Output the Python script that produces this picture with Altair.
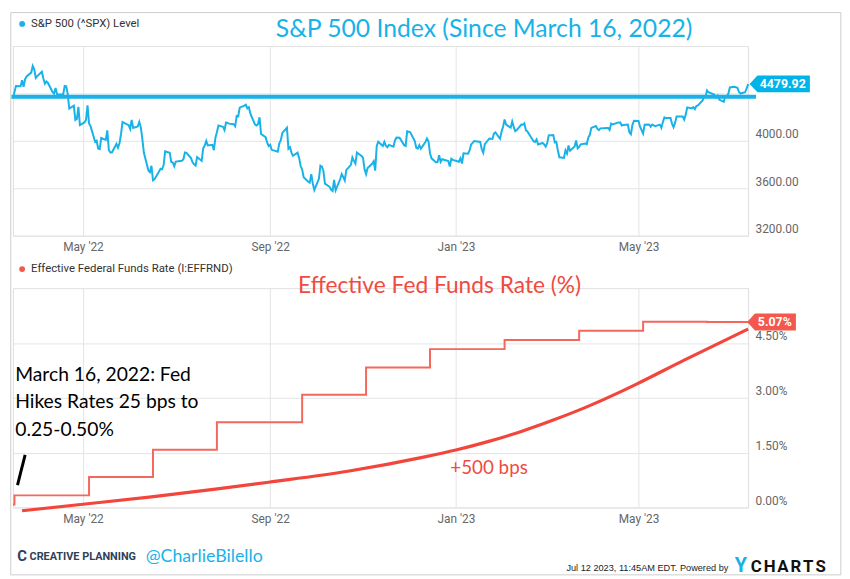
import altair as alt
import pandas as pd

# ---------------- S&P 500 daily closes (day, close) by month ----------------
mar22 = [(16, 4357.86), (17, 4411.67), (18, 4463.12), (21, 4461.18), (22, 4511.61), (23, 4456.24), (24, 4520.16),
         (25, 4543.06), (28, 4575.52), (29, 4631.60), (30, 4602.45), (31, 4530.41)]
apr22 = [(1, 4545.86), (4, 4582.64), (5, 4525.12), (6, 4481.15), (7, 4500.21), (8, 4488.28), (11, 4412.53),
         (12, 4397.45), (13, 4446.59), (14, 4392.59), (18, 4391.69), (19, 4462.21), (20, 4459.45), (21, 4393.66),
         (22, 4271.78), (25, 4296.12), (26, 4175.20), (27, 4183.96), (28, 4287.50), (29, 4131.93)]
may22 = [(2, 4155.38), (3, 4175.48), (4, 4300.17), (5, 4146.87), (6, 4123.34), (9, 3991.24), (10, 4001.05),
         (11, 3935.18), (12, 3930.08), (13, 4023.89), (16, 4008.01), (17, 4088.85), (18, 3923.68), (19, 3900.79),
         (20, 3901.36), (23, 3973.75), (24, 3941.48), (25, 3978.73), (26, 4057.84), (27, 4158.24), (31, 4132.15)]
jun22 = [(1, 4101.23), (2, 4176.82), (3, 4108.54), (6, 4121.43), (7, 4160.68), (8, 4115.77), (9, 4017.82),
         (10, 3900.86), (13, 3749.63), (14, 3735.48), (15, 3789.99), (16, 3666.77), (17, 3674.84), (21, 3764.79),
         (22, 3759.89), (23, 3795.73), (24, 3911.74), (27, 3900.11), (28, 3821.55), (29, 3818.83), (30, 3785.38)]
jul22 = [(1, 3825.33), (5, 3831.39), (6, 3845.08), (7, 3902.62), (8, 3899.38), (11, 3854.43), (12, 3818.80),
         (13, 3801.78), (14, 3790.38), (15, 3863.16), (18, 3830.85), (19, 3936.69), (20, 3959.90), (21, 3998.95),
         (22, 3961.63), (25, 3966.84), (26, 3921.05), (27, 4023.61), (28, 4072.43), (29, 4130.29)]
aug22 = [(1, 4118.63), (2, 4091.19), (3, 4155.17), (4, 4151.94), (5, 4145.19), (8, 4140.06), (9, 4122.47),
         (10, 4210.24), (11, 4207.27), (12, 4280.15), (15, 4297.14), (16, 4305.20), (17, 4274.04), (18, 4283.74),
         (19, 4228.48), (22, 4137.99), (23, 4128.73), (24, 4140.77), (25, 4199.12), (26, 4057.66), (29, 4030.61),
         (30, 3986.16), (31, 3955.00)]
sep22 = [(1, 3966.85), (2, 3924.26), (6, 3908.19), (7, 3979.87), (8, 4006.18), (9, 4067.36), (12, 4110.41),
         (13, 3932.69), (14, 3946.01), (15, 3901.35), (16, 3873.33), (19, 3899.89), (20, 3855.93), (21, 3789.93),
         (22, 3757.99), (23, 3693.23), (26, 3655.04), (27, 3647.29), (28, 3719.04), (29, 3640.47), (30, 3585.62)]
oct22 = [(3, 3678.43), (4, 3790.93), (5, 3783.28), (6, 3744.52), (7, 3639.66), (10, 3612.39), (11, 3588.84),
         (12, 3577.03), (13, 3669.91), (14, 3583.07), (17, 3677.95), (18, 3719.98), (19, 3695.16), (20, 3665.78),
         (21, 3752.75), (24, 3797.34), (25, 3859.11), (26, 3830.60), (27, 3807.30), (28, 3901.06), (31, 3871.98)]
nov22 = [(1, 3856.10), (2, 3759.69), (3, 3719.89), (4, 3770.55), (7, 3806.80), (8, 3828.11), (9, 3748.57),
         (10, 3956.37), (11, 3992.93), (14, 3957.25), (15, 3991.73), (16, 3958.79), (17, 3946.56), (18, 3965.34),
         (21, 3949.94), (22, 4003.58), (23, 4027.26), (25, 4026.12), (28, 3963.94), (29, 3957.63), (30, 4080.11)]
dec22 = [(1, 4076.57), (2, 4071.70), (5, 3998.84), (6, 3941.26), (7, 3933.92), (8, 3963.51), (9, 3934.38),
         (12, 3990.56), (13, 4019.65), (14, 3995.32), (15, 3895.75), (16, 3852.36), (19, 3817.66), (20, 3821.62),
         (21, 3878.44), (22, 3822.39), (23, 3844.82), (27, 3829.25), (28, 3783.22), (29, 3849.28), (30, 3839.50)]
jan23 = [(3, 3824.14), (4, 3852.97), (5, 3808.10), (6, 3895.08), (9, 3892.09), (10, 3919.25), (11, 3969.61),
         (12, 3983.17), (13, 3999.09), (17, 3990.97), (18, 3928.86), (19, 3898.85), (20, 3972.61), (23, 4019.81),
         (24, 4016.95), (25, 4016.22), (26, 4060.43), (27, 4070.56), (30, 4017.77), (31, 4076.60)]
feb23 = [(1, 4119.21), (2, 4179.76), (3, 4136.48), (6, 4111.08), (7, 4164.00), (8, 4117.86), (9, 4081.50),
         (10, 4090.46), (13, 4137.29), (14, 4136.13), (15, 4147.60), (16, 4090.41), (17, 4079.09), (21, 3997.34),
         (22, 3991.05), (23, 4012.32), (24, 3970.04), (27, 3982.24), (28, 3970.15)]
mar23 = [(1, 3951.39), (2, 3981.35), (3, 4045.64), (6, 4048.42), (7, 3986.37), (8, 3992.01), (9, 3918.32),
         (10, 3861.59), (13, 3855.76), (14, 3919.29), (15, 3891.93), (16, 3960.28), (17, 3916.64), (20, 3951.57),
         (21, 4002.87), (22, 3936.97), (23, 3948.72), (24, 3970.99), (27, 3977.53), (28, 3971.27), (29, 4027.81),
         (30, 4050.83), (31, 4109.31)]
apr23 = [(3, 4124.51), (4, 4100.60), (5, 4090.38), (6, 4105.02), (10, 4109.11), (11, 4108.94), (12, 4091.95),
         (13, 4146.22), (14, 4137.64), (17, 4151.32), (18, 4154.87), (19, 4154.52), (20, 4129.79), (21, 4133.52),
         (24, 4137.04), (25, 4071.63), (26, 4055.99), (27, 4135.35), (28, 4169.48)]
may23 = [(1, 4167.87), (2, 4119.58), (3, 4090.75), (4, 4061.22), (5, 4136.25), (8, 4138.12), (9, 4119.17),
         (10, 4137.64), (11, 4130.62), (12, 4124.08), (15, 4136.28), (16, 4109.90), (17, 4158.77), (18, 4198.05),
         (19, 4191.98), (22, 4192.63), (23, 4145.58), (24, 4115.24), (25, 4151.28), (26, 4205.45), (30, 4205.52),
         (31, 4179.83)]
jun23 = [(1, 4221.02), (2, 4282.37), (5, 4273.79), (6, 4283.85), (7, 4267.52), (8, 4293.93), (9, 4298.86),
         (12, 4338.93), (13, 4369.01), (14, 4372.59), (15, 4425.84), (16, 4409.59), (20, 4388.71), (21, 4365.69),
         (22, 4381.89), (23, 4348.33), (26, 4328.82), (27, 4378.41), (28, 4376.86), (29, 4396.44), (30, 4450.38)]
jul23 = [(3, 4455.59), (5, 4446.82), (6, 4411.59), (7, 4398.95), (10, 4409.53), (11, 4439.26), (12, 4479.92)]

sp_months = [("2022-03", mar22), ("2022-04", apr22), ("2022-05", may22), ("2022-06", jun22), ("2022-07", jul22),
             ("2022-08", aug22), ("2022-09", sep22), ("2022-10", oct22), ("2022-11", nov22), ("2022-12", dec22),
             ("2023-01", jan23), ("2023-02", feb23), ("2023-03", mar23), ("2023-04", apr23), ("2023-05", may23),
             ("2023-06", jun23), ("2023-07", jul23)]

start_line_level = 4372   # hand-drawn reference line (start level)
last_level = 4479.92

# ---------------- Effective Fed Funds Rate (step changes) ----------------
ff_dates = ["2022-03-16", "2022-03-17", "2022-05-05", "2022-06-16", "2022-07-28", "2022-09-22", "2022-11-03",
            "2022-12-15", "2023-02-02", "2023-03-23", "2023-05-04", "2023-06-15", "2023-07-12"]
ff_rate = [0.08, 0.33, 0.83, 1.58, 2.33, 3.08, 3.83, 4.33, 4.58, 4.83, 5.08, 5.07, 5.07]
last_rate = 5.07

# hand-drawn "+500 bps" curve and pointer stroke (in chart units)
arrow_dates = ["2022-03-22", "2022-05-04", "2022-06-15", "2022-07-27", "2022-08-31", "2022-10-22", "2022-12-10",
               "2023-01-01", "2023-01-22", "2023-02-13", "2023-03-06", "2023-03-28", "2023-04-18", "2023-04-30",
               "2023-05-31", "2023-07-12"]
arrow_vals = [-0.09, 0.10, 0.29, 0.50, 0.69, 0.99, 1.37, 1.57, 1.80, 2.08, 2.39, 2.75, 3.14, 3.38, 4.03, 4.88]
pointer_dates = ["2022-03-19", "2022-03-24"]
pointer_vals = [0.61, 1.44]

sp_ticks = [3200, 3600, 4000, 4400, 4800]
ff_ticks = [0, 1.5, 3, 4.5, 6]
x_ticks = [(2022, 5, 1), (2022, 9, 1), (2023, 1, 1), (2023, 5, 1)]

# ---------------- build tables ----------------
sp_rows = []
for ym, rows in sp_months:
    for d, c in rows:
        sp_rows.append({"date": f"{ym}-{d:02d}", "close": c})
sp_df = pd.DataFrame(sp_rows)
ff_df = pd.DataFrame({"date": ff_dates, "rate": ff_rate})
arrow_df = pd.DataFrame({"date": arrow_dates, "rate": arrow_vals})
pointer_df = pd.DataFrame({"date": pointer_dates, "rate": pointer_vals})

CYAN = "#18b2e8"
RED = "#f4574b"
W = 744
H1 = 192
H2 = 222
HAND = "Lato"


def dt(y, m, d):
    return alt.DateTime(year=y, month=m, date=d, utc=True)


x_scale = alt.Scale(type="utc", domain=[dt(2022, 3, 16), dt(2023, 7, 12)], nice=False)
x_axis = alt.Axis(values=[dt(*t) for t in x_ticks], format="%b '%y", title=None, grid=True,
                  gridColor="#e4e4e4", ticks=False, domain=False, labelColor="#666666",
                  labelFont="Roboto", labelFontSize=12, labelPadding=6, labelFlush=False)

sp_scale = alt.Scale(domain=[3200, 4800], nice=False, zero=False)
sp_axis = alt.Axis(orient="right", values=sp_ticks, title=None, domain=False, ticks=False,
                   gridColor="#e4e4e4", labelColor="#666666", labelFont="Roboto", labelFontSize=12,
                   labelBaseline="bottom", labelPadding=7,
                   labelExpr="datum.value == 4400 || datum.value == 4800 ? '' : format(datum.value, '.2f')")
ff_scale = alt.Scale(domain=[0, 6], nice=False)
ff_axis = alt.Axis(orient="right", values=ff_ticks, title=None, domain=False, ticks=False,
                   gridColor="#e4e4e4", labelColor="#666666", labelFont="Roboto", labelFontSize=12,
                   labelBaseline="bottom", labelPadding=7,
                   labelExpr="datum.value >= 6 ? '' : format(datum.value, '.2f') + '%'")


def txt(text, x, y, size=12, color="#333333", font="Roboto", weight="normal", align="left"):
    return alt.Chart(pd.DataFrame({"t": [text]})).mark_text(
        fontSize=size, color=color, font=font, fontWeight=weight, align=align, baseline="middle"
    ).encode(x=alt.value(x), y=alt.value(y), text="t:N")


one = pd.DataFrame({"a": [0]})

# ---------------- top panel ----------------
canvas = alt.Chart(one).mark_rect(fillOpacity=0, stroke="#cccccc", strokeWidth=1).encode(
    x=alt.value(-2.2), x2=alt.value(837.8), y=alt.value(-33.8), y2=alt.value(535.2))

sp_line = alt.Chart(sp_df).mark_line(color=CYAN, strokeWidth=2).encode(
    x=alt.X("date:T", scale=x_scale, axis=x_axis),
    y=alt.Y("close:Q", scale=sp_scale, axis=sp_axis),
)

start_rule = alt.Chart(one).mark_rule(color=CYAN, strokeWidth=4).encode(
    x=alt.value(-1.5), x2=alt.value(W + 8), y=alt.YDatum(datum=start_line_level, scale=sp_scale, axis=sp_axis))

sp_box = alt.Chart(one).mark_point(
    shape="M-1,0L-0.74,-0.28L1,-0.28L1,0.28L-0.74,0.28Z", filled=True, size=3721, color="#00b4ea",
    opacity=1, strokeWidth=0).encode(x=alt.value(W + 32), y=alt.YDatum(datum=last_level, scale=sp_scale, axis=sp_axis))
sp_box_txt = alt.Chart(pd.DataFrame({"t": ["4479.92"]})).mark_text(
    color="white", fontWeight="bold", fontSize=12.5, font="Roboto", align="center", baseline="middle").encode(
    x=alt.value(W + 35), y=alt.YDatum(datum=last_level, scale=sp_scale, axis=sp_axis), text="t:N")

sp_dot = alt.Chart(one).mark_circle(size=34, color=CYAN, opacity=1).encode(x=alt.value(9.3), y=alt.value(-22.3))

top = alt.layer(
    canvas, sp_line, start_rule, sp_box, sp_box_txt, sp_dot,
    txt("S&P 500 (^SPX) Level", 18.3, -22.3, size=11.5, color="#333333"),
    txt("S&P 500 Index (Since March 16, 2022)", 476.8, -17.0, size=25, color=CYAN, font=HAND, align="center"),
).properties(width=W, height=H1)

# ---------------- bottom panel ----------------
ff_line = alt.Chart(ff_df).mark_line(color="#f5675c", strokeWidth=2, interpolate="step-after").encode(
    x=alt.X("date:T", scale=x_scale, axis=x_axis),
    y=alt.Y("rate:Q", scale=ff_scale, axis=ff_axis),
)
arrow_line = alt.Chart(arrow_df).mark_line(color="#f2453b", strokeWidth=3.2, interpolate="monotone").encode(
    x=alt.X("date:T", scale=x_scale, axis=x_axis), y=alt.Y("rate:Q", scale=ff_scale, axis=ff_axis))
pointer_line = alt.Chart(pointer_df).mark_line(color="black", strokeWidth=3).encode(
    x=alt.X("date:T", scale=x_scale, axis=x_axis), y=alt.Y("rate:Q", scale=ff_scale, axis=ff_axis))

ff_box = alt.Chart(one).mark_point(
    shape="M-1,0L-0.68,-0.35L1,-0.35L1,0.35L-0.68,0.35Z", filled=True, size=2430, color=RED,
    opacity=1, strokeWidth=0).encode(x=alt.value(W + 23.7), y=alt.YDatum(datum=last_rate, scale=ff_scale, axis=ff_axis))
ff_box_txt = alt.Chart(pd.DataFrame({"t": ["5.07%"]})).mark_text(
    color="white", fontWeight="bold", fontSize=12.5, font="Roboto", align="center", baseline="middle").encode(
    x=alt.value(W + 27), y=alt.YDatum(datum=last_rate, scale=ff_scale, axis=ff_axis), text="t:N")

ff_dot = alt.Chart(one).mark_circle(size=34, color=RED, opacity=1).encode(x=alt.value(9.3), y=alt.value(-19.3))

ychart_letters = ["C", "H", "A", "R", "T", "S"]
ychart_x = [763.0, 776.5, 790.0, 803.0, 815.5, 828.0]
footer_letters = [txt(ch, xx - 10.7, 282.2, size=17, color="#111111", weight="bold", align="center")
                  for ch, xx in zip(ychart_letters, ychart_x)]

bottom = alt.layer(
    ff_line, arrow_line, pointer_line, ff_box, ff_box_txt, ff_dot,
    txt("Effective Federal Funds Rate (I:EFFRND)", 18.3, -19.3, size=11.5, color="#333333"),
    txt("Effective Fed Funds Rate (%)", 431.8, -2.3, size=23, color="#f04b40", font=HAND, align="center"),
    txt("March 16, 2022: Fed", 2.3, 87.7, size=19.5, color="black", font=HAND),
    txt("Hikes Rates 25 bps to", 2.3, 115.7, size=19.5, color="black", font=HAND),
    txt("0.25-0.50%", 2.3, 143.7, size=19.5, color="black", font=HAND),
    txt("+500 bps", 481.8, 182.0, size=19, color="#f04b40", font=HAND, align="center"),
    txt("C", 4.3, 271.2, size=15, color="#2c4258", weight="bold"),
    txt("CREATIVE PLANNING", 16.8, 272.2, size=11, color="#2c4258", weight="bold"),
    txt("@CharlieBilello", 134.3, 272.2, size=18, color=CYAN, font=HAND),
    txt("Jul 12 2023, 11:45AM EDT.  Powered by", 724.0, 283.2, size=9.3, color="#222222",
        font="Liberation Sans", align="right"),
    txt("Y", 736.6, 281.7, size=20, color=CYAN, weight="bold", align="center"),
    *footer_letters,
).properties(width=W, height=H2)

chart = alt.vconcat(top, bottom, spacing=53, bounds="flush").properties(
    padding=0, background="white"
).configure_view(stroke="#d2d2d2", strokeWidth=1).configure(font="Roboto")

chart.save("out.html", embed_options={"renderer": "svg", "actions": False})
